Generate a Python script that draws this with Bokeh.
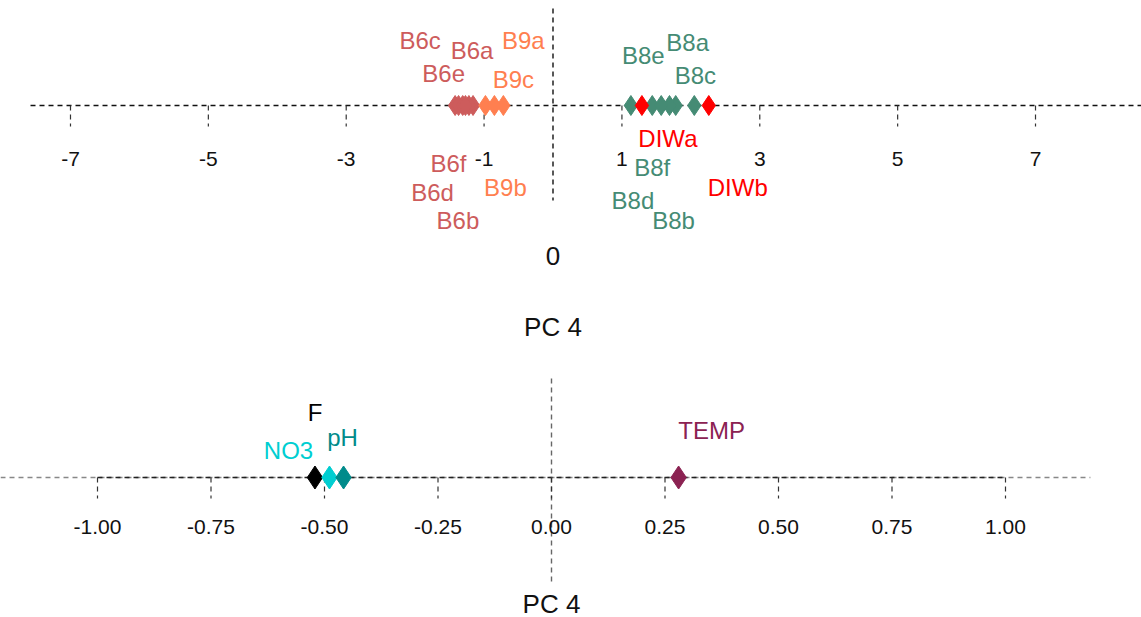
from bokeh.plotting import figure
from bokeh.models import Range1d, ColumnDataSource
from bokeh.core.properties import value
from bokeh.embed import file_html
from bokeh.resources import INLINE

# ---------------- data ----------------
sample_names = ["B6a", "B6b", "B6c", "B6d", "B6e", "B6f",
                "B9a", "B9b", "B9c",
                "B8a", "B8b", "B8c", "B8d", "B8e", "B8f",
                "DIWa", "DIWb"]
sample_groups = ["B6"] * 6 + ["B9"] * 3 + ["B8"] * 6 + ["DIW"] * 2
sample_pc4 = [-1.16, -1.22, -1.42, -1.37, -1.31, -1.27,
              -0.72, -0.98, -0.85,
              1.78, 1.69, 2.05, 1.13, 1.44, 1.57,
              1.29, 2.26]

var_names = ["F", "NO3", "pH", "TEMP"]
var_pc4 = [-0.521, -0.489, -0.458, 0.280]

score_ticks = [-7, -5, -3, -1, 1, 3, 5, 7]
load_ticks = [-1.0, -0.75, -0.5, -0.25, 0.0, 0.25, 0.5, 0.75, 1.0]
load_tick_labels = ["-1.00", "-0.75", "-0.50", "-0.25", "0.00", "0.25", "0.50", "0.75", "1.00"]
axis_title = "PC 4"

# ---------------- styles / layout ----------------
group_colors = {"B6": "#CD5C5C", "B9": "#FF7F50", "B8": "#458B74", "DIW": "#FF0000"}
var_colors = {"F": "#000000", "NO3": "#00CED1", "pH": "#008B8B", "TEMP": "#8B2252"}

# label placement: (pixel x offset from point, screen y)
sample_label_pos = {
    "B6c": (-35, 40), "B6d": (-26, 192), "B6e": (-19, 73), "B6f": (-17, 163),
    "B6b": (-11, 220), "B6a": (-1, 50), "B9b": (20, 187), "B9c": (19, 79),
    "B9a": (20, 40), "B8d": (2, 200), "B8e": (-9, 55), "B8f": (-9, 167),
    "B8b": (4, 220), "B8a": (12, 42), "B8c": (1, 75), "DIWa": (26, 138),
    "DIWb": (29, 187),
}
var_label_pos = {"F": (0, 412), "NO3": (-41, 450), "pH": (-1, 437), "TEMP": (33, 430)}

FONT = value("Liberation Sans")
W, H = 1141, 617
top_zero, top_unit = 552.5, 68.93
bot_zero, bot_unit = 551.0, 454.0
top_y, bot_y = 105, 477

p = figure(width=W, height=H, output_backend="svg", toolbar_location=None,
           x_range=Range1d(-top_zero / top_unit, (W - top_zero) / top_unit),
           y_range=Range1d(H, 0),
           x_axis_type=None, y_axis_type=None, min_border=0)
p.extra_x_ranges = {"load": Range1d(-bot_zero / bot_unit, (W - bot_zero) / bot_unit)}
p.xgrid.visible = False
p.ygrid.visible = False
p.outline_line_color = None
p.background_fill_color = "white"
p.border_fill_color = "white"

DASH = "5 4"
TICK_FS = "21px"
LABEL_FS = "24px"
TITLE_FS = "26px"

# ---------- top panel (sample scores) ----------
p.segment(x0=[-7.58], y0=[top_y], x1=[8.6], y1=[top_y], line_color="#111111",
          line_width=1.4, line_dash=DASH)
p.segment(x0=[0], y0=[8], x1=[0], y1=[200], line_color="#111111",
          line_width=1.4, line_dash=DASH)
p.segment(x0=score_ticks, y0=[top_y] * len(score_ticks), x1=score_ticks,
          y1=[top_y + 21] * len(score_ticks), line_color="#333333",
          line_width=1.2, line_dash=DASH)
p.text(x=score_ticks, y=[158] * len(score_ticks), text=[str(t) for t in score_ticks],
       text_font=FONT, text_font_size=TICK_FS, text_color="#111111",
       text_align="center", text_baseline="middle")
p.text(x=[0], y=[255], text=["0"], text_font=FONT, text_font_size=TITLE_FS,
       text_color="#111111", text_align="center", text_baseline="middle")
p.text(x=[0], y=[326], text=[axis_title], text_font=FONT, text_font_size=TITLE_FS,
       text_color="#111111", text_align="center", text_baseline="middle")

scol = [group_colors[g] for g in sample_groups]
src = ColumnDataSource(dict(
    x=sample_pc4, y=[top_y] * len(sample_pc4), name=sample_names, color=scol,
    dx=[sample_label_pos[n][0] for n in sample_names],
    ly=[sample_label_pos[n][1] for n in sample_names]))
p.scatter(x="x", y="y", source=src, marker="diamond", size=20,
          fill_color="color", line_color="color", line_width=1)
p.text(x="x", y="ly", x_offset="dx", text="name", source=src, text_color="color",
       text_font=FONT, text_font_size=LABEL_FS, text_align="center", text_baseline="middle")

# ---------- bottom panel (variable loadings) ----------
p.segment(x0=[-bot_zero / bot_unit], y0=[bot_y], x1=[1.187], y1=[bot_y],
          line_color="#888888", line_width=1.4, line_dash=DASH, x_range_name="load")
p.segment(x0=[load_ticks[0]], y0=[bot_y], x1=[load_ticks[-1]], y1=[bot_y],
          line_color="#222222", line_width=1.4, line_dash=DASH, x_range_name="load")
p.segment(x0=[0], y0=[378], x1=[0], y1=[585], line_color="#666666",
          line_width=1.4, line_dash=DASH, x_range_name="load")
p.segment(x0=load_ticks, y0=[bot_y] * len(load_ticks), x1=load_ticks,
          y1=[bot_y + 21] * len(load_ticks), line_color="#333333",
          line_width=1.2, line_dash=DASH, x_range_name="load")
p.text(x=load_ticks, y=[526] * len(load_ticks), text=load_tick_labels,
       text_font=FONT, text_font_size=TICK_FS, text_color="#111111",
       text_align="center", text_baseline="middle", x_range_name="load")
p.text(x=[0], y=[603], text=[axis_title], text_font=FONT, text_font_size=TITLE_FS,
       text_color="#111111", text_align="center", text_baseline="middle",
       x_range_name="load")

vcol = [var_colors[n] for n in var_names]
vsrc = ColumnDataSource(dict(
    x=var_pc4, y=[bot_y] * len(var_pc4), name=var_names, color=vcol,
    dx=[var_label_pos[n][0] for n in var_names],
    ly=[var_label_pos[n][1] for n in var_names]))
p.scatter(x="x", y="y", source=vsrc, marker="diamond", size=23,
          fill_color="color", line_color="color", line_width=1, x_range_name="load")
p.text(x="x", y="ly", x_offset="dx", text="name", source=vsrc, text_color="color",
       text_font=FONT, text_font_size=LABEL_FS, text_align="center", text_baseline="middle",
       x_range_name="load")

open("out.html", "w").write(file_html(p, INLINE))
